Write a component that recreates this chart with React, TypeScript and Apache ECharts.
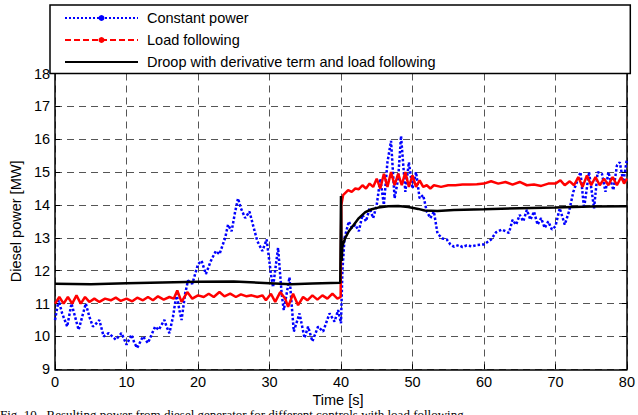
import React, { useEffect, useRef } from "react";
import * as echarts from "echarts";

const xTicks = { min: 0, max: 80, interval: 10 };
const yTicks = { min: 9, max: 18, interval: 1 };

const seriesNames = [
  "Constant power",
  "Load following",
  "Droop with derivative term and load following",
];

const constantPower: [number, number][] = [
  [0, 10.5], [0.5, 11.1], [1, 10.7], [1.7, 10.3], [2.3, 11.0], [2.8, 10.6], [3.3, 10.2], [3.8, 10.6],
  [4.3, 11.0], [4.8, 10.6], [5.3, 10.3], [5.8, 10.4], [6.2, 10.5], [6.8, 10.0], [7.5, 10.1], [8, 10.0],
  [8.5, 9.9], [9.3, 10.1], [10, 9.75], [10.7, 10.05], [11.1, 9.8], [11.5, 9.65], [12.3, 10.0], [13, 9.8],
  [13.5, 10.05], [14, 10.3], [14.5, 10.2], [15.3, 10.5], [15.6, 10.3], [16, 10.1], [16.5, 10.6], [17, 11.3],
  [17.4, 10.8], [17.7, 10.5], [18.2, 11.3], [18.6, 11.7], [19.2, 11.6], [19.6, 11.9], [20, 12.2], [20.5, 12.3],
  [21.1, 11.9], [21.8, 12.3], [22.5, 12.6], [23, 12.5], [23.8, 13.0], [24.2, 13.4], [24.7, 13.2], [25.2, 13.8],
  [25.6, 14.2], [26, 13.9], [26.6, 13.6], [27.2, 13.8], [27.8, 13.3], [28.3, 12.9], [29, 12.6], [29.6, 12.95],
  [30.2, 11.9], [30.5, 11.5], [31.2, 12.7], [31.7, 11.3], [32, 10.8], [32.8, 11.8], [33.4, 10.15], [34.2, 10.7],
  [34.9, 9.95], [35.4, 10.3], [36, 9.85], [36.8, 10.3], [37.5, 10.15], [38.4, 10.7], [39.1, 10.45], [39.6, 10.8],
  [40, 10.4], [40.2, 12.0], [40.5, 13.0], [41.1, 13.5], [41.5, 13.3], [42, 13.4], [42.5, 13.2], [43, 13.7],
  [43.5, 13.5], [44, 13.9], [44.5, 13.6], [45, 14.0], [45.5, 14.8], [46, 14.0], [46.5, 15.3], [47, 15.95],
  [47.5, 14.2], [48, 14.8], [48.4, 16.1], [49, 14.4], [49.5, 15.3], [50, 14.5], [50.5, 15.0], [51, 14.2],
  [51.5, 14.3], [52, 13.8], [52.5, 13.6], [53, 13.8], [53.5, 13.13], [54.2, 12.98], [54.8, 12.95], [55.3, 12.8],
  [55.8, 12.73], [56.5, 12.78], [57, 12.72], [57.6, 12.77], [58.3, 12.74], [59, 12.78], [60, 12.8], [61, 12.95],
  [61.7, 13.17], [62.5, 13.25], [63, 13.2], [63.5, 13.15], [64, 13.55], [64.5, 13.4], [65, 13.7], [65.5, 13.5],
  [66, 13.85], [66.5, 13.55], [67, 13.8], [67.5, 13.4], [68, 13.6], [68.5, 13.3], [69, 13.5], [69.5, 13.25],
  [70, 13.35], [70.6, 13.9], [71.3, 13.4], [71.9, 13.8], [72.5, 14.4], [73, 14.7], [73.5, 15.0], [74, 13.9],
  [74.7, 15.0], [75.4, 13.9], [75.9, 15.0], [76.5, 14.95], [77, 14.4], [77.4, 15.0], [78.1, 14.45], [78.6, 15.2],
  [79, 15.3], [79.5, 14.7], [80, 15.4],
];

const loadFollowing: [number, number][] = [
  [0, 11.0], [0.6, 11.2], [1.2, 11.0], [1.8, 11.2], [2.4, 11.0], [3.0, 11.25], [3.6, 11.0], [4.2, 11.2],
  [4.8, 11.05], [5.5, 11.15], [6.2, 11.05], [7, 11.15], [7.8, 11.1], [8.5, 11.18], [9.2, 11.08], [10, 11.15],
  [10.8, 11.07], [11.5, 11.18], [12.3, 11.1], [13, 11.2], [13.7, 11.1], [14.4, 11.22], [15.2, 11.12], [16, 11.2],
  [16.6, 11.15], [17.1, 11.4], [17.7, 11.05], [18.5, 11.35], [19.2, 11.15], [20, 11.25], [20.8, 11.2], [21.5, 11.3],
  [22.2, 11.2], [23, 11.35], [23.7, 11.22], [24.5, 11.3], [25.3, 11.2], [26, 11.28], [26.8, 11.22], [27.5, 11.25],
  [28.3, 11.2], [29, 11.25], [29.5, 11.1], [30.2, 11.3], [30.8, 11.05], [31.5, 11.35], [32.2, 11.15], [32.6, 10.9],
  [33.3, 11.3], [34, 10.95], [34.7, 11.2], [35.3, 11.1], [36, 11.25], [36.7, 11.12], [37.4, 11.25], [38.1, 11.15],
  [38.8, 11.3], [39.5, 11.15], [39.95, 11.2], [40.05, 14.0], [40.3, 14.3], [41, 14.45], [41.5, 14.4], [42, 14.5],
  [42.5, 14.48], [43, 14.6], [43.5, 14.5], [44, 14.65], [44.5, 14.55], [45, 14.8], [45.5, 14.5], [46, 14.95],
  [46.5, 14.55], [47, 15.0], [47.5, 14.6], [48, 14.95], [48.5, 14.6], [49, 15.0], [49.5, 14.55], [50, 14.9],
  [50.5, 14.55], [51, 14.75], [51.5, 14.55], [52, 14.6], [52.5, 14.5], [53, 14.6], [54, 14.55], [55, 14.6],
  [56, 14.6], [57, 14.62], [58, 14.62], [59, 14.63], [60, 14.65], [61, 14.72], [62, 14.65], [63, 14.7],
  [64, 14.62], [65, 14.7], [66, 14.6], [67, 14.62], [68, 14.58], [69, 14.65], [70, 14.65], [70.7, 14.75],
  [71.3, 14.6], [72, 14.72], [72.6, 14.6], [73.2, 14.85], [73.8, 14.55], [74.4, 14.9], [75, 14.6], [75.6, 14.85],
  [76.2, 14.6], [76.8, 14.8], [77.4, 14.6], [78, 14.85], [78.6, 14.6], [79.2, 14.85], [79.6, 14.65], [80, 14.8],
];

const droopDerivative: [number, number][] = [
  [0, 11.6], [5, 11.59], [10, 11.62], [15, 11.64], [20, 11.66], [25, 11.67], [30, 11.62], [33, 11.59],
  [36, 11.61], [39.9, 11.63], [40, 14.27], [40.1, 12.3], [40.2, 12.75], [40.6, 13.0], [41.1, 13.2], [41.8, 13.4],
  [42.5, 13.6], [43.4, 13.78], [44.3, 13.87], [45.2, 13.92], [46.6, 13.96], [48, 13.97], [49.4, 13.94], [50.8, 13.88],
  [51.7, 13.83], [53.5, 13.82], [55.8, 13.85], [60, 13.87], [65, 13.9], [70, 13.92], [75, 13.95], [80, 13.96],
];

const xName = "Time [s]";
const yName = "Diesel power [MW]";
const caption = "Fig. 10.  Resulting power from diesel generator for different controls with load following";

const FONT = '"Liberation Sans", Arial, sans-serif';

export default function App() {
  const ref = useRef<HTMLDivElement>(null);
  useEffect(() => {
    if (!ref.current) return;
    const chart = echarts.init(ref.current, null, { renderer: "svg" });
    const gridLeft = 50;
    const gridRight = 7.7;
    const gridTop = 73.5;
    const gridBottom = 45.7;
    const W = 638;
    const legendX1 = 65;
    const legendX2 = 138;
    const rows = [18, 40, 62];
    const legendStyles = [
      { color: "#0000ff", dash: [2, 2], marker: true },
      { color: "#ff0000", dash: [6, 3], marker: true },
      { color: "#000000", dash: null as any, marker: false },
    ];
    const graphics: any[] = [
      {
        type: "rect",
        shape: { x: gridLeft, y: 5, width: W - gridLeft - gridRight, height: gridTop - 5 },
        style: { fill: "#fff", stroke: "#000", lineWidth: 1.5 },
        z: 100,
      },
    ];
    seriesNames.forEach((name, i) => {
      const s = legendStyles[i];
      graphics.push({
        type: "line",
        shape: { x1: legendX1, y1: rows[i], x2: legendX2, y2: rows[i] },
        style: { stroke: s.color, lineWidth: 2, lineDash: s.dash || undefined },
        z: 101,
      });
      if (s.marker) {
        graphics.push({
          type: "circle",
          shape: { cx: (legendX1 + legendX2) / 2, cy: rows[i], r: 3 },
          style: { fill: s.color },
          z: 101,
        });
      }
      graphics.push({
        type: "text",
        x: 147,
        y: rows[i],
        style: { text: name, fill: "#000", font: `14.5px ${FONT}`, verticalAlign: "middle", align: "left" },
        z: 101,
      });
    });
    graphics.push({
      type: "text",
      x: 338,
      y: 400,
      style: { text: xName, fill: "#000", font: `14.5px ${FONT}`, verticalAlign: "middle", align: "center" },
    });
    graphics.push({
      type: "text",
      x: 0,
      y: 408,
      style: { text: caption, fill: "#000", font: '13px "Liberation Serif", "Times New Roman", serif', verticalAlign: "top", align: "left" },
    });

    const axisText = { color: "#000", fontSize: 14.5, fontFamily: FONT };
    chart.setOption({
      animation: false,
      backgroundColor: "#fff",
      grid: { left: gridLeft, right: gridRight, top: gridTop, bottom: gridBottom, containLabel: false },
      xAxis: {
        type: "value",
        min: xTicks.min,
        max: xTicks.max,
        interval: xTicks.interval,
        axisLine: { show: true, onZero: false, lineStyle: { color: "#000", width: 1.5 } },
        axisTick: { show: true, inside: true, length: 5, lineStyle: { color: "#000" } },
        axisLabel: { ...axisText, margin: 5 },
        splitLine: { show: true, lineStyle: { color: "#555", type: [7, 5], width: 1 } },
      },
      yAxis: [
        {
          type: "value",
          min: yTicks.min,
          max: yTicks.max,
          interval: yTicks.interval,
          name: yName,
          nameLocation: "middle",
          nameGap: 30,
          nameTextStyle: axisText,
          axisLine: { show: true, onZero: false, lineStyle: { color: "#000", width: 1.5 } },
          axisTick: { show: true, inside: true, length: 5, lineStyle: { color: "#000" } },
          axisLabel: { ...axisText, margin: 5 },
          splitLine: { show: true, lineStyle: { color: "#555", type: [7, 5], width: 1 } },
        },
        {
          type: "value",
          position: "right",
          min: yTicks.min,
          max: yTicks.max,
          interval: yTicks.interval,
          axisLine: { show: true, onZero: false, lineStyle: { color: "#000", width: 1.5 } },
          axisTick: { show: true, inside: true, length: 5, lineStyle: { color: "#000" } },
          axisLabel: { show: false },
          splitLine: { show: false },
        },
      ],
      series: [
        {
          name: seriesNames[0],
          type: "line",
          data: constantPower,
          showSymbol: false,
          symbol: "none",
          lineStyle: { color: "#0000ff", width: 2.5, type: [2.5, 2] },
          z: 2,
        },
        {
          name: seriesNames[1],
          type: "line",
          data: loadFollowing,
          showSymbol: false,
          symbol: "none",
          lineStyle: { color: "#ff0000", width: 2.5 },
          z: 3,
        },
        {
          name: seriesNames[2],
          type: "line",
          data: droopDerivative,
          showSymbol: false,
          symbol: "none",
          lineStyle: { color: "#000000", width: 2.5 },
          z: 4,
        },
      ],
      graphic: graphics,
    });
    return () => chart.dispose();
  }, []);
  return <div ref={ref} style={{ position: "fixed", left: 0, top: 0, width: 638, height: 415 }} />;
}
